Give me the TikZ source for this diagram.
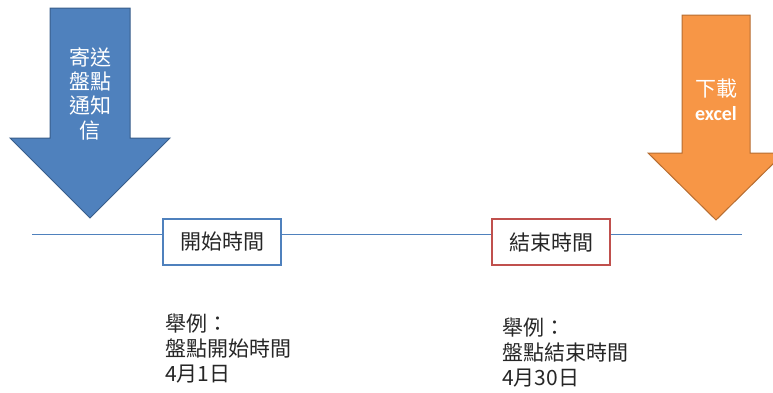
\documentclass[tikz,border=0pt]{standalone}
\usepackage{fontspec}
\setmainfont{Noto Sans CJK TC}
\newfontfamily\latinbold{Carlito}
\usepackage{tikz}
\usetikzlibrary{arrows}
\definecolor{corazul}{RGB}{79,129,189}
\definecolor{corazulborda}{RGB}{56,93,138}
\definecolor{corlaranja}{RGB}{247,150,70}
\definecolor{corlaranjaborda}{RGB}{182,109,49}
\definecolor{corvermelho}{RGB}{192,80,77}
\definecolor{cortexto}{RGB}{38,38,38}
\tikzset{
  caixa/.style={draw, fill=white, line width=1.5pt, minimum width=118pt, minimum height=46pt, inner sep=0pt, text=cortexto, font=\fontsize{21}{25}\selectfont},
  exemplo/.style={anchor=base west, align=left, inner sep=0pt, text=cortexto, font=\fontsize{21}{25}\selectfont},
  seta/.style={line width=1pt, line join=miter}
}

\begin{document}
\begin{tikzpicture}[x=1pt, y=-1pt]
  \useasboundingbox (0,0) rectangle (773,392);
  % setas
  \draw [seta, fill=corazul, draw=corazulborda] (50,8) -- (130,8) -- (130,138) -- (170,138) -- (90,218) -- (10,138) -- (50,138) -- cycle;
  \draw [seta, fill=corlaranja, draw=corlaranjaborda] (682,15) -- (750,15) -- (750,153) -- (784,153) -- (716,220) -- (648,153) -- (682,153) -- cycle;
  \node [anchor=base, align=center, inner sep=0pt, text=white, font=\fontsize{21}{24.3}\selectfont] (aviso) at (90,138) {寄送\\盤點\\通知\\信};
  \node [anchor=base, align=center, inner sep=0pt, text=white, font=\fontsize{21}{24}\selectfont] (baixar) at (716,120) {下載\\{\latinbold\bfseries\fontsize{20}{24}\selectfont excel}};
  % linha do tempo
  \coordinate (inicio) at (32,234);
  \coordinate (fim) at (742,234);
  \draw [corazul, line width=0.8pt] (inicio) -- (fim);
  \node [caixa, draw=corazul] (comeco) at (222,242) {開始時間};
  \node [caixa, draw=corvermelho] (termino) at (551,242) {結束時間};
  \node [exemplo] (excomeco) at (165,381) {舉例：\\盤點開始時間\\4月1日};
  \node [exemplo] (extermino) at (502,385) {舉例：\\盤點結束時間\\4月30日};
\end{tikzpicture}
\end{document}
